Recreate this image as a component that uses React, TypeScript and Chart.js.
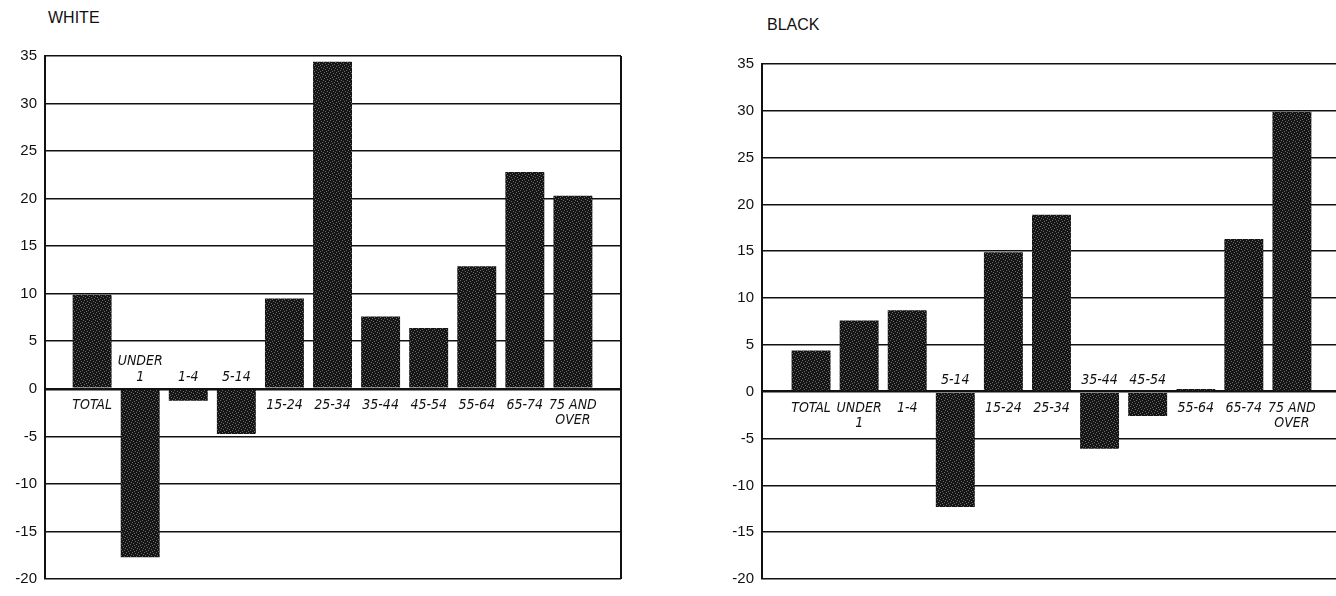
import React, { useEffect, useRef } from "react";
import { Chart, registerables } from "chart.js";

Chart.register(...registerables);

// ---- data ----
const categories = [
  "TOTAL", "UNDER 1", "1-4", "5-14", "15-24", "25-34",
  "35-44", "45-54", "55-64", "65-74", "75 AND OVER",
];
const categoryLabelLines = [
  ["TOTAL"], ["UNDER", "1"], ["1-4"], ["5-14"], ["15-24"], ["25-34"],
  ["35-44"], ["45-54"], ["55-64"], ["65-74"], ["75 AND", "OVER"],
];
const whiteValues = [9.9, -17.7, -1.25, -4.75, 9.5, 34.4, 7.6, 6.4, 12.9, 22.8, 20.3];
const blackValues = [4.4, 7.6, 8.7, -12.3, 14.9, 18.9, -6.1, -2.6, 0.3, 16.3, 29.9];
const yTickValues = [-20, -15, -10, -5, 0, 5, 10, 15, 20, 25, 30, 35];
const yMin = -20;
const yMax = 35;

function makeStipple(ctx: CanvasRenderingContext2D) {
  const c = document.createElement("canvas");
  c.width = 6;
  c.height = 6;
  const p = c.getContext("2d")!;
  p.fillStyle = "#151515";
  p.fillRect(0, 0, 6, 6);
  p.fillStyle = "#6a6a6a";
  const dots = [[0, 0], [3, 1], [1, 3], [4, 4], [5, 2], [2, 5]];
  dots.forEach(([x, y]) => p.fillRect(x, y, 1, 1));
  return ctx.createPattern(c, "repeat") as CanvasPattern;
}

type PanelProps = {
  title: string;
  values: number[];
  left: number;
  width: number;
  padding: { left: number; right: number; top: number; bottom: number };
  axisWidth: number;
  xMin: number;
  xMax: number;
  titleLeft: number;
  titleTop: number;
};

function Panel(props: PanelProps) {
  const ref = useRef<HTMLCanvasElement | null>(null);
  useEffect(() => {
    const canvas = ref.current!;
    const ctx = canvas.getContext("2d")!;
    const pattern = makeStipple(ctx);
    const values = props.values;

    const labelPlugin = {
      id: "ageLabels",
      afterDatasetsDraw(chart: any) {
        const { ctx, chartArea } = chart;
        const xs = chart.scales.x;
        const ys = chart.scales.y;
        const zero = ys.getPixelForValue(0);
        ctx.save();
        ctx.font = 'italic 14px "DejaVu Sans Condensed", "DejaVu Sans", sans-serif';
        ctx.fillStyle = "#111";
        ctx.textAlign = "center";
        ctx.textBaseline = "alphabetic";
        values.forEach((v, i) => {
          const cx = xs.getPixelForValue(i);
          const lines = categoryLabelLines[i];
          if (v >= 0) {
            lines.forEach((l, k) => ctx.fillText(l, cx, zero + 20 + k * 15));
          } else {
            lines.forEach((l, k) =>
              ctx.fillText(l, cx, zero - 8 - (lines.length - 1 - k) * 16)
            );
          }
        });
        ctx.strokeStyle = "#111";
        ctx.lineWidth = 2;
        ctx.beginPath();
        ctx.moveTo(chartArea.right, chartArea.top);
        ctx.lineTo(chartArea.right, chartArea.bottom);
        ctx.stroke();
        ctx.restore();
      },
    };

    const chart = new Chart(canvas, {
      type: "bar",
      data: {
        labels: categories,
        datasets: [
          {
            label: props.title,
            data: values.map((v, i) => ({ x: i, y: v })) as any,
            backgroundColor: pattern,
            borderWidth: 0,
            categoryPercentage: 1,
            barPercentage: 0.81,
          },
        ],
      },
      options: {
        animation: false,
        responsive: true,
        maintainAspectRatio: false,
        layout: { padding: props.padding },
        plugins: {
          legend: { display: false },
          tooltip: { enabled: false },
          title: { display: false },
        },
        scales: {
          x: {
            type: "linear",
            min: props.xMin,
            max: props.xMax,
            offset: false,
            display: false,
          },
          y: {
            type: "linear",
            min: yMin,
            max: yMax,
            afterBuildTicks: (scale: any) => {
              scale.ticks = yTickValues.map((v) => ({ value: v }));
            },
            afterFit: (scale: any) => {
              scale.width = props.axisWidth;
            },
            ticks: {
              color: "#111",
              padding: 8,
              font: { family: '"Liberation Sans", Arial, sans-serif', size: 15 },
            },
            grid: {
              color: "#111",
              lineWidth: (c: any) => (c.tick && c.tick.value === 0 ? 2.5 : 1.6),
              drawTicks: false,
            },
            border: { display: true, color: "#111", width: 2 },
          },
        },
      },
      plugins: [labelPlugin],
    });
    return () => chart.destroy();
  }, []);

  return (
    <>
      <div
        style={{
          position: "absolute",
          left: props.titleLeft,
          top: props.titleTop,
          font: '16px "Liberation Sans", Arial, sans-serif',
          lineHeight: "16px",
          color: "#111",
        }}
      >
        {props.title}
      </div>
      <div
        style={{
          position: "absolute",
          left: props.left,
          top: 0,
          width: props.width,
          height: 596,
        }}
      >
        <canvas ref={ref} />
      </div>
    </>
  );
}

export default function App() {
  return (
    <div
      style={{
        position: "absolute",
        left: 0,
        top: 0,
        width: 1336,
        height: 596,
        overflow: "hidden",
        background: "#fff",
      }}
    >
      <Panel
        title="WHITE"
        values={whiteValues}
        left={0}
        width={660}
        padding={{ left: 0, right: 39, top: 56, bottom: 12 }}
        axisWidth={45}
        xMin={-0.98}
        xMax={11.0}
        titleLeft={48}
        titleTop={10}
      />
      <Panel
        title="BLACK"
        values={blackValues}
        left={700}
        width={680}
        padding={{ left: 0, right: 40, top: 64, bottom: 6 }}
        axisWidth={62}
        xMin={-1.02}
        xMax={11.0}
        titleLeft={767}
        titleTop={17}
      />
    </div>
  );
}
